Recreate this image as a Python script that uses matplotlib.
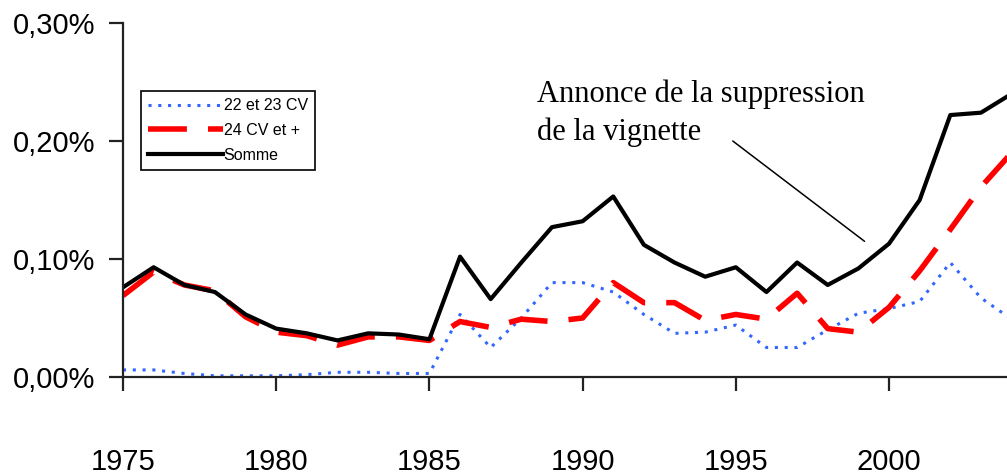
import matplotlib.pyplot as plt
from matplotlib.ticker import FuncFormatter

# valeurs (en %)
annees = list(range(1975, 2005))
cv_22_23 = [0.006, 0.006, 0.003, 0.001, 0.001, 0.001, 0.002, 0.004, 0.004, 0.003,
            0.003, 0.053, 0.025, 0.050, 0.080, 0.080, 0.072, 0.053, 0.037, 0.038,
            0.044, 0.025, 0.025, 0.040, 0.054, 0.058, 0.064, 0.097, 0.067, 0.049]
cv_24_plus = [0.069, 0.089, 0.078, 0.073, 0.051, 0.038, 0.035, 0.027, 0.034, 0.034,
              0.031, 0.047, 0.042, 0.049, 0.047, 0.050, 0.080, 0.063, 0.063, 0.048,
              0.053, 0.049, 0.071, 0.041, 0.038, 0.059, 0.090, 0.125, 0.161, 0.190]
somme = [0.076, 0.093, 0.078, 0.072, 0.053, 0.041, 0.037, 0.031, 0.037, 0.036,
         0.032, 0.102, 0.066, 0.097, 0.127, 0.132, 0.153, 0.112, 0.097, 0.085,
         0.093, 0.072, 0.097, 0.078, 0.092, 0.113, 0.150, 0.222, 0.224, 0.240]

fig = plt.figure(figsize=(10.07, 4.74), dpi=100)
ax = fig.add_axes([123/1007, 1 - 377/474, 884/1007, 354/474])

ax.plot(annees, cv_22_23, color='#3366ff', linestyle=(0, (1, 2.2)), linewidth=2.2,
        label='22 et 23 CV')
ax.plot(annees, cv_24_plus, color='#ff0000', linestyle=(0, (7, 3.8)), linewidth=4,
        label='24 CV et +')
ax.plot(annees, somme, color='black', linewidth=3, label='Somme')

ax.set_xlim(1975, 2003.85)
ax.set_ylim(0, 0.30)
ax.set_xticks(range(1975, 2001, 5))
ax.set_yticks([0, 0.10, 0.20, 0.30])
ax.yaxis.set_major_formatter(FuncFormatter(lambda v, p: f"{v:.2f}%".replace('.', ',')))

for s in ['top', 'right']:
    ax.spines[s].set_visible(False)
for s in ['left', 'bottom']:
    ax.spines[s].set_linewidth(1.6)
    ax.spines[s].set_color('#222222')

ax.tick_params(axis='x', direction='out', length=10, width=1.6, pad=41,
               labelsize=21, colors='#222222', labelcolor='black')
ax.tick_params(axis='y', direction='out', length=10, width=1.6, pad=10,
               labelsize=21, colors='#222222', labelcolor='black')
for lab in ax.get_xticklabels() + ax.get_yticklabels():
    lab.set_fontfamily('Liberation Sans')

leg = ax.legend(loc='upper left', bbox_to_anchor=(0.020, 0.808), borderaxespad=0,
                prop={'family': 'Liberation Sans', 'size': 11.5}, handlelength=4.7,
                handletextpad=0.05, labelspacing=0.62, fancybox=False,
                edgecolor='black', framealpha=1, borderpad=0.45)
leg.get_frame().set_linewidth(1.2)

# ligne de l'annotation
ax.annotate('', xy=(1999.2, 0.115), xytext=(1994.9, 0.200),
            arrowprops=dict(arrowstyle='-', color='black', lw=1.1,
                            shrinkA=0, shrinkB=0))
ax.text(1988.5, 0.195, 'Annonce de la suppression\nde la vignette',
        ha='left', va='bottom', fontfamily='Liberation Serif', fontsize=22,
        linespacing=1.38)

fig.savefig('out.png', dpi=100)
